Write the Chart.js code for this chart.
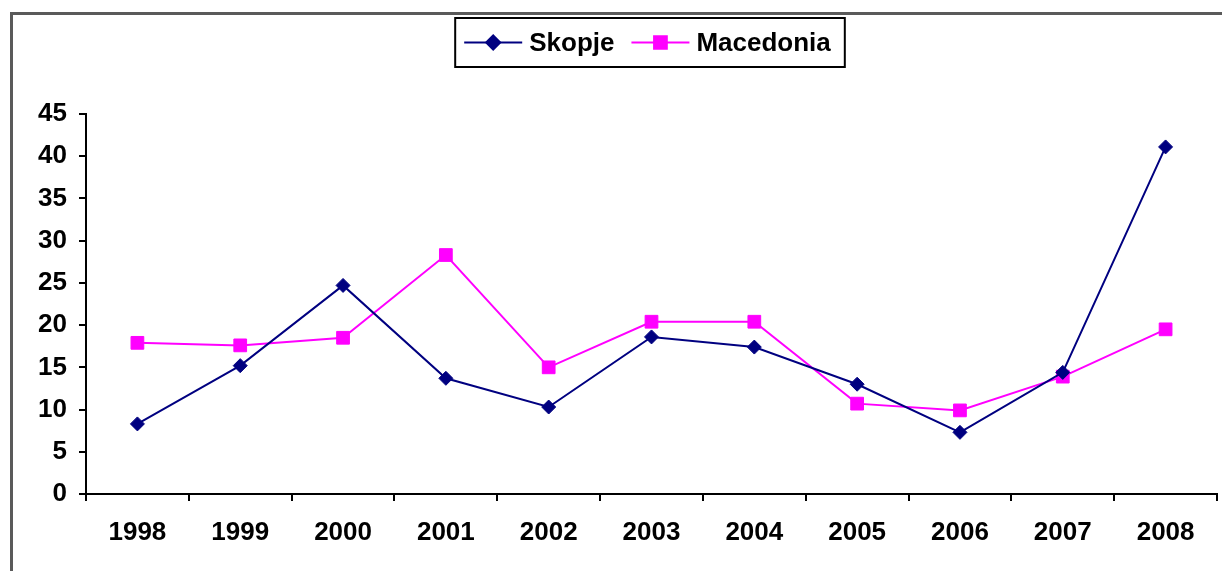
<!DOCTYPE html>
<html>
<head>
<meta charset="utf-8">
<script src="https://cdn.jsdelivr.net/npm/chart.js@4"></script>
<style>
    body { margin: 0; overflow: hidden; background: #fff; }
    #frame { position: absolute; left: 10px; top: 12px; width: 1300px; height: 700px; border: 3px solid #5a5a5a; }
    #wrap { position: absolute; left: 0; top: 0; width: 1222px; height: 571px; }
</style>
</head>
<body>
<div id="frame"></div>
<div id="wrap"><canvas id="chart"></canvas></div>
<script>
var years = ['1998', '1999', '2000', '2001', '2002', '2003', '2004', '2005', '2006', '2007', '2008'];
var skopje = [8.3, 15.2, 24.7, 13.7, 10.3, 18.6, 17.4, 13.0, 7.3, 14.4, 41.1];
var macedonia = [17.9, 17.6, 18.5, 28.3, 15.0, 20.4, 20.4, 10.7, 9.9, 13.9, 19.5];
var yTicks = [0, 5, 10, 15, 20, 25, 30, 35, 40, 45];

var font = '"Liberation Sans", Arial, sans-serif';

// legend drawn in a box, like the excel one
var boxLegend = {
    id: 'boxLegend',
    afterDraw: function (chart) {
        var ctx = chart.ctx;
        ctx.save();
        ctx.font = 'bold 26px ' + font;
        var items = chart.data.datasets.map(function (ds) {
            return { ds: ds, w: ctx.measureText(ds.label).width };
        });
        var sample = 58, gap = 7, between = 17, padL = 9, padR = 14;
        var total = padL + padR + between * (items.length - 1);
        items.forEach(function (it) { total += sample + gap + it.w; });
        var top = 18, h = 49, cx = 650;
        var x = cx - total / 2;
        ctx.strokeStyle = '#000';
        ctx.lineWidth = 2;
        ctx.strokeRect(x, top, total, h);
        x += padL;
        var cy = top + h / 2;
        items.forEach(function (it) {
            ctx.strokeStyle = it.ds.borderColor;
            ctx.lineWidth = it.ds.borderWidth;
            ctx.beginPath();
            ctx.moveTo(x, cy);
            ctx.lineTo(x + sample, cy);
            ctx.stroke();
            ctx.fillStyle = it.ds.pointBackgroundColor;
            ctx.strokeStyle = it.ds.pointBorderColor;
            Chart.helpers.drawPoint(ctx, { pointStyle: it.ds.pointStyle, radius: it.ds.pointRadius, borderWidth: 1, rotation: 0 }, x + sample / 2, cy);
            x += sample + gap;
            ctx.fillStyle = '#000';
            ctx.textBaseline = 'middle';
            ctx.textAlign = 'left';
            ctx.fillText(it.ds.label, x, cy + 1);
            x += it.w + between;
        });
        ctx.restore();
    }
};

window.addEventListener("load", function () {
    var ctx = document.getElementById('chart').getContext('2d');
    new Chart(ctx, {
        type: 'line',
        data: {
            labels: years,
            datasets: [
                {
                    label: 'Skopje',
                    data: skopje,
                    borderColor: '#000080',
                    backgroundColor: '#000080',
                    borderWidth: 2,
                    pointStyle: 'rectRot',
                    pointRadius: 7,
                    pointBackgroundColor: '#000080',
                    pointBorderColor: '#000080',
                    pointBorderWidth: 1,
                    tension: 0
                },
                {
                    label: 'Macedonia',
                    data: macedonia,
                    borderColor: '#ff00ff',
                    backgroundColor: '#ff00ff',
                    borderWidth: 2,
                    pointStyle: 'rect',
                    pointRadius: 9,
                    pointBackgroundColor: '#ff00ff',
                    pointBorderColor: '#ff00ff',
                    pointBorderWidth: 1,
                    tension: 0
                }
            ]
        },
        options: {
            responsive: true,
            maintainAspectRatio: false,
            animation: false,
            layout: { autoPadding: false, padding: { top: 114, right: 5, left: 0, bottom: 0 } },
            plugins: {
                legend: { display: false },
                tooltip: { enabled: false }
            },
            scales: {
                x: {
                    offset: true,
                    grid: { offset: true, drawOnChartArea: false, color: '#000', lineWidth: 2, tickLength: 7 },
                    border: { color: '#000', width: 2 },
                    ticks: { color: '#000', font: { family: font, size: 26, weight: 'bold' }, padding: 16, maxRotation: 0 },
                    afterFit: function (scale) { scale.height = 77; }
                },
                y: {
                    min: yTicks[0],
                    max: yTicks[yTicks.length - 1],
                    afterBuildTicks: function (scale) {
                        scale.ticks = yTicks.map(function (v) { return { value: v }; });
                    },
                    grid: { drawOnChartArea: false, color: '#000', lineWidth: 2, tickLength: 7 },
                    border: { color: '#000', width: 2 },
                    ticks: { color: '#000', font: { family: font, size: 26, weight: 'bold' }, padding: 12 },
                    afterFit: function (scale) { scale.width = 86; }
                }
            }
        },
        plugins: [boxLegend]
    });
});
</script>
</body>
</html>
